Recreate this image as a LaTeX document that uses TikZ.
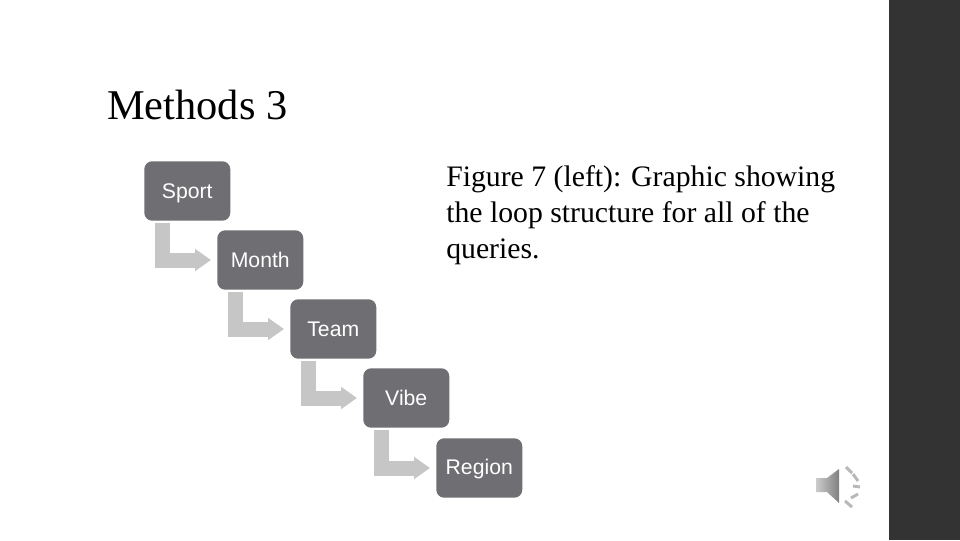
\documentclass[tikz,border=0pt]{standalone}
\usepackage{fontspec}
\setmainfont{Liberation Serif}
\newfontfamily\boxfont{Liberation Sans}
\usetikzlibrary{arrows.meta,calc}
\definecolor{boxgrey}{HTML}{6F6E72}
\definecolor{arrowgrey}{HTML}{C6C6C6}
\definecolor{sidebar}{HTML}{333333}
\tikzset{
  x=0.75pt,y=-0.75pt,
  stagebox/.style={fill=boxgrey,rounded corners=6pt,minimum width=64.5pt,minimum height=44.6pt,inner sep=0pt,text=white,font=\boxfont\fontsize{15.9}{18}\selectfont,anchor=north west,text height=11pt,text depth=0pt},
  bentarrow/.style={draw=arrowgrey,line width=11.25pt,line join=miter,-{Triangle[length=12pt,width=16pt]}},
  titletext/.style={font=\fontsize{31.8}{38}\selectfont,anchor=west,inner sep=0pt},
  bodytext/.style={font=\fontsize{22.3}{27}\selectfont,anchor=north west,inner sep=0pt,align=left},
  speakerdash/.style={draw=black!28,line width=2.2pt},
}
\begin{document}
\begin{tikzpicture}
\useasboundingbox (0,0) rectangle (960,540);
\fill[white] (0,0) rectangle (960,540);
\fill[sidebar] (889,0) rectangle (960,540);
\node[titletext] (title) at (107,105) {Methods 3};
\node[bodytext] (caption) at (446,165) {Figure 7 (left): Graphic showing\\the loop structure for all of the\\queries.};
\node[stagebox] (sport) at (144,161) {Sport};
\node[stagebox] (month) at (217,230) {Month};
\node[stagebox] (team) at (290,299) {Team};
\node[stagebox] (vibe) at (363,368) {Vibe};
\node[stagebox,text depth=2pt] (region) at (436,438) {Region};
\foreach \a/\b in {sport/month,month/team,team/vibe,vibe/region}
  \draw[bentarrow] ($(\a.south west)+(18.5,2)$) |- ($(\b.west)+(-6,0)$);
% speaker icon
\shade[left color=black!20,right color=black!50] (816,478) -- (827,478) -- (839,469) -- (839,503) -- (827,492) -- (816,492) -- cycle;
\draw[speakerdash] (846,467) -- (852,473);
\draw[speakerdash] (853,474) -- (858,481);
\draw[speakerdash] (853,486) -- (860,487);
\draw[speakerdash] (851,498) -- (858,494);
\draw[speakerdash] (845,501) -- (852,507);
\end{tikzpicture}
\end{document}
